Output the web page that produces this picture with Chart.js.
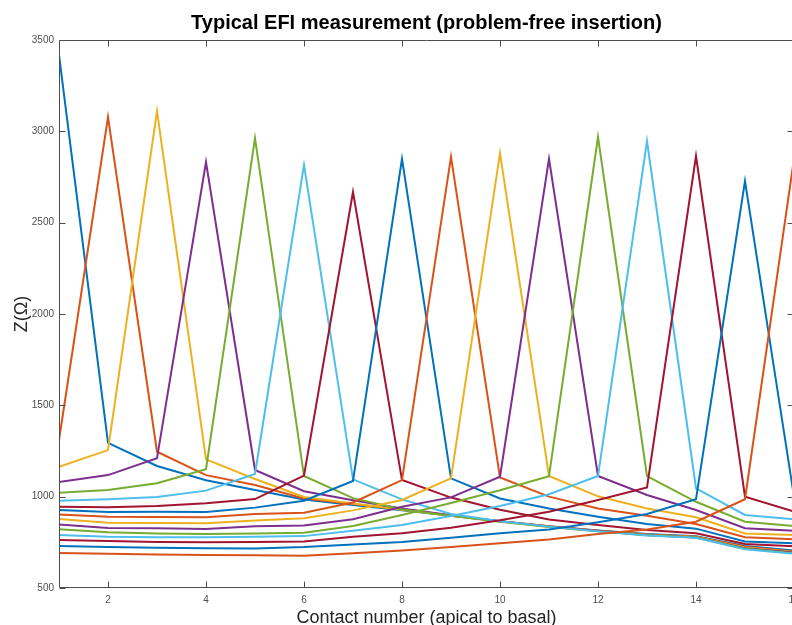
<!DOCTYPE html>
<html>
<head>
<meta charset="utf-8">
<script src="https://cdn.jsdelivr.net/npm/chart.js@4.4.0/dist/chart.umd.min.js"></script>
<style>
  html, body { margin: 0; padding: 0; background: #fff; overflow: hidden; }
  #wrap { width: 792px; height: 625px; overflow: hidden; position: relative; }
  canvas { display: block; }
</style>
</head>
<body>
<div id="wrap"><canvas id="c" width="800" height="640" style="width:800px;height:640px"></canvas></div>
<script>
// ---- data ----
const contacts = [1, 2, 3, 4, 5, 6, 7, 8, 9, 10, 11, 12, 13, 14, 15, 16];
const xTickValues = [2, 4, 6, 8, 10, 12, 14, 16];
const yTickValues = [500, 1000, 1500, 2000, 2500, 3000, 3500];

const stim1  = [3418, 1295, 1168, 1090, 1036, 985, 955, 925, 895, 865, 838, 815, 795, 783, 730, 705];
const stim2  = [1310, 3078, 1246, 1118, 1064, 990, 960, 930, 897, 866, 838, 813, 793, 781, 726, 700];
const stim3  = [1164, 1255, 3111, 1204, 1097, 998, 962, 928, 895, 864, 836, 812, 792, 779, 722, 697];
const stim4  = [1080, 1118, 1210, 2832, 1146, 1030, 980, 935, 898, 866, 836, 812, 790, 777, 718, 694];
const stim5  = [1022, 1036, 1073, 1150, 2963, 1113, 992, 930, 895, 863, 834, 810, 789, 776, 715, 690];
const stim6  = [978, 986, 998, 1033, 1124, 2816, 1095, 985, 905, 866, 836, 810, 788, 775, 712, 688];
const stim7  = [945, 942, 949, 964, 987, 1115, 2668, 1091, 995, 928, 875, 845, 818, 800, 741, 728];
const stim8  = [927, 916, 918, 916, 940, 978, 1086, 2849, 1100, 990, 935, 890, 850, 825, 755, 745];
const stim9  = [903, 890, 889, 887, 905, 912, 968, 1091, 2860, 1105, 1000, 935, 895, 850, 778, 767];
const stim10 = [878, 857, 856, 854, 870, 882, 925, 982, 1100, 2881, 1113, 1002, 935, 887, 799, 790];
const stim11 = [847, 828, 827, 823, 838, 842, 876, 945, 996, 1109, 2849, 1113, 1009, 927, 827, 814];
const stim12 = [821, 805, 799, 796, 799, 803, 839, 900, 965, 1035, 1112, 2969, 1113, 972, 863, 839];
const stim13 = [790, 781, 778, 778, 781, 784, 814, 845, 894, 949, 1013, 1113, 2947, 1046, 900, 876];
const stim14 = [763, 757, 752, 750, 752, 755, 781, 800, 830, 871, 918, 982, 1051, 2865, 1000, 918];
const stim15 = [730, 724, 720, 717, 716, 724, 738, 752, 775, 800, 820, 860, 905, 986, 2728, 1000];
const stim16 = [692, 688, 684, 681, 679, 677, 690, 705, 725, 745, 765, 795, 820, 863, 986, 2850];

const seriesList = [stim1, stim2, stim3, stim4, stim5, stim6, stim7, stim8,
                    stim9, stim10, stim11, stim12, stim13, stim14, stim15, stim16];
const palette = ['#0072BD', '#D95319', '#EDB120', '#7E2F8E', '#77AC30', '#4DBEEE', '#A2142F'];

const FONT = "'Liberation Sans', Arial, Helvetica, sans-serif";
const AXIS_COLOR = '#4d4d4d';

const datasets = seriesList.map((vals, i) => ({
  label: 'Electrode ' + (i + 1),
  data: vals.map((v, k) => ({ x: contacts[k], y: v })),
  borderColor: palette[i % palette.length],
  backgroundColor: palette[i % palette.length],
  borderWidth: 2,
  pointRadius: 0,
  tension: 0,
  fill: false,
  order: seriesList.length - i
}));

const boxPlugin = {
  id: 'matlabBox',
  afterDatasetsDraw(chart) {
    const { ctx, chartArea: { left, right, top, bottom }, scales: { x, y } } = chart;
    ctx.save();
    ctx.strokeStyle = AXIS_COLOR;
    ctx.lineWidth = 1;
    const L = Math.round(left) + 0.5, R = Math.round(right) - 0.5;
    const T = Math.round(top) + 0.5, B = Math.round(bottom) - 0.5;
    ctx.beginPath();
    ctx.moveTo(L, T); ctx.lineTo(R, T); ctx.lineTo(R, B); ctx.lineTo(L, B); ctx.closePath();
    const tl = 6;
    x.ticks.forEach(t => {
      const px = Math.round(x.getPixelForValue(t.value)) + 0.5;
      ctx.moveTo(px, B); ctx.lineTo(px, B - tl);
      ctx.moveTo(px, T); ctx.lineTo(px, T + tl);
    });
    y.ticks.forEach(t => {
      const py = Math.round(y.getPixelForValue(t.value)) + 0.5;
      ctx.moveTo(L, py); ctx.lineTo(L + tl, py);
      ctx.moveTo(R, py); ctx.lineTo(R - tl, py);
    });
    ctx.stroke();
    ctx.restore();
  }
};

new Chart(document.getElementById('c'), {
  type: 'line',
  data: { datasets },
  plugins: [boxPlugin],
  options: {
    responsive: false,
    animation: false,
    devicePixelRatio: 1,
    layout: { padding: { left: 0, right: 6, top: 0, bottom: 0 } },
    plugins: {
      legend: { display: false },
      tooltip: { enabled: false },
      title: { display: false }
    },
    scales: {
      xTop: {
        type: 'linear',
        position: 'top',
        min: 1,
        max: 16,
        afterFit: s => { s.height = 40; s.paddingLeft = 0; s.paddingRight = 0; },
        grid: { display: false, drawTicks: false },
        border: { display: false },
        ticks: { display: false },
        title: {
          display: true,
          text: 'Typical EFI measurement (problem-free insertion)',
          color: '#000',
          font: { family: FONT, size: 20, weight: 'bold', lineHeight: 1.2 },
          padding: { top: 11.5, bottom: 0 }
        }
      },
      x: {
        type: 'linear',
        position: 'bottom',
        min: 1,
        max: 16,
        afterBuildTicks: s => { s.ticks = xTickValues.map(v => ({ value: v })); },
        afterFit: s => { s.height = 52; s.paddingLeft = 0; s.paddingRight = 0; },
        grid: { display: false, drawTicks: false },
        border: { display: false },
        ticks: { color: AXIS_COLOR, padding: 6, maxRotation: 0, font: { family: FONT, size: 10 },
                 callback: v => String(v) },
        title: {
          display: true,
          text: 'Contact number (apical to basal)',
          color: '#262626',
          font: { family: FONT, size: 18, lineHeight: 1.2 },
          padding: { top: 0, bottom: 11 }
        }
      },
      y: {
        type: 'linear',
        min: 500,
        max: 3500,
        afterBuildTicks: s => { s.ticks = yTickValues.map(v => ({ value: v })); },
        afterFit: s => { s.width = 59; s.paddingTop = 0; s.paddingBottom = 0; },
        grid: { display: false, drawTicks: false },
        border: { display: false },
        ticks: { color: AXIS_COLOR, padding: 5, font: { family: FONT, size: 10 },
                 callback: v => String(v) },
        title: {
          display: true,
          text: 'Z(Ω)',
          color: '#262626',
          font: { family: FONT, size: 18, lineHeight: 1.2 },
          padding: { top: 11.5, bottom: 0 }
        }
      }
    }
  }
});
</script>
</body>
</html>
